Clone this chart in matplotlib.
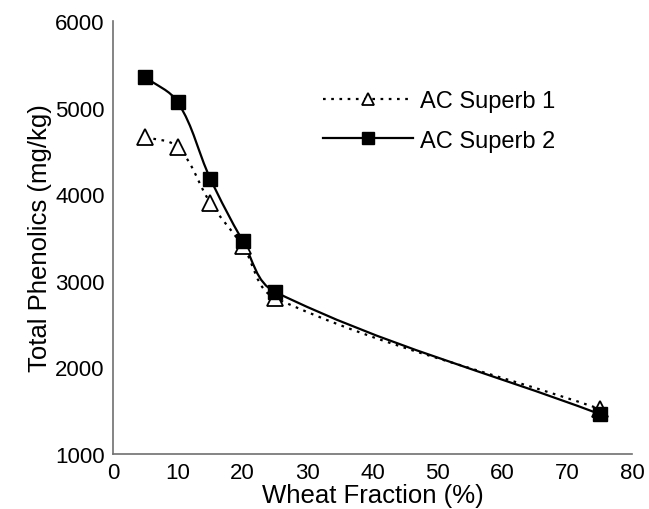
import matplotlib
matplotlib.use("Agg")
import matplotlib.pyplot as plt
import numpy as np
from matplotlib.path import Path
from matplotlib.patches import PathPatch

plt.rcParams.update({
    "font.family": ["Liberation Sans", "DejaVu Sans"],
    "font.size": 16,
})

wheat_fraction = [5, 10, 15, 20, 25, 75]
superb_1 = [4660, 4540, 3900, 3400, 2800, 1520]
superb_2 = [5350, 5060, 4180, 3460, 2870, 1460]


def smooth_path(ax, xs, ys, k=0.36):
    """Smoothed line through the points (cubic Bezier, display space)."""
    pts = ax.transData.transform(np.column_stack([xs, ys]))
    n = len(pts)
    tang = []
    for i in range(n):
        d = pts[min(i + 1, n - 1)] - pts[max(i - 1, 0)]
        tang.append(d / np.hypot(*d))
    verts = [pts[0]]
    codes = [Path.MOVETO]
    for i in range(n - 1):
        seg = np.hypot(*(pts[i + 1] - pts[i]))
        c1 = pts[i] + tang[i] * seg * k
        c2 = pts[i + 1] - tang[i + 1] * seg * k
        verts += [c1, c2, pts[i + 1]]
        codes += [Path.CURVE4] * 3
    return Path(verts, codes)


fig = plt.figure(figsize=(6.49, 5.10), dpi=100)
ax = fig.add_axes([0.174, 0.108, 0.80, 0.849])
ax.set_xlim(0, 80)
ax.set_ylim(1000, 6000)
ax.set_xticks(range(0, 81, 10))
ax.set_yticks(range(1000, 6001, 1000))
ax.tick_params(length=0, pad=6)
for side in ("top", "right"):
    ax.spines[side].set_visible(False)
for side in ("left", "bottom"):
    ax.spines[side].set_color("#707070")
    ax.spines[side].set_linewidth(1.2)

ax.set_xlabel("Wheat Fraction (%)", fontsize=18.5, labelpad=0)
ax.set_ylabel("Total Phenolics (mg/kg)", fontsize=18.5, labelpad=2)

fig.canvas.draw()
for ys, ls in ((superb_1, (0, (1.2, 2.5))), (superb_2, "-")):
    patch = PathPatch(smooth_path(ax, wheat_fraction, ys), transform=None,
                      facecolor="none", edgecolor="black", lw=1.6, linestyle=ls,
                      zorder=2)
    ax.add_artist(patch)

ax.plot(wheat_fraction, superb_1, ls="none", marker="^", ms=11,
        mfc="white", mec="black", mew=1.3, zorder=3)
ax.plot(wheat_fraction, superb_2, ls="none", marker="s", ms=10,
        mfc="black", mec="black", zorder=4)

# legend proxies
h1, = ax.plot([], [], color="black", lw=1.6, ls=(0, (1.2, 2.5)), marker="^",
              ms=9, mfc="white", mec="black", mew=1.3, label="AC Superb 1")
h2, = ax.plot([], [], color="black", lw=1.6, ls="-", marker="s", ms=9,
              mfc="black", label="AC Superb 2")
ax.legend(handles=[h1, h2], loc="upper right", bbox_to_anchor=(0.893, 0.89),
          frameon=False, handlelength=3.8, handletextpad=0.3, labelspacing=0.75,
          fontsize=17)

fig.savefig("out.png", dpi=100)
